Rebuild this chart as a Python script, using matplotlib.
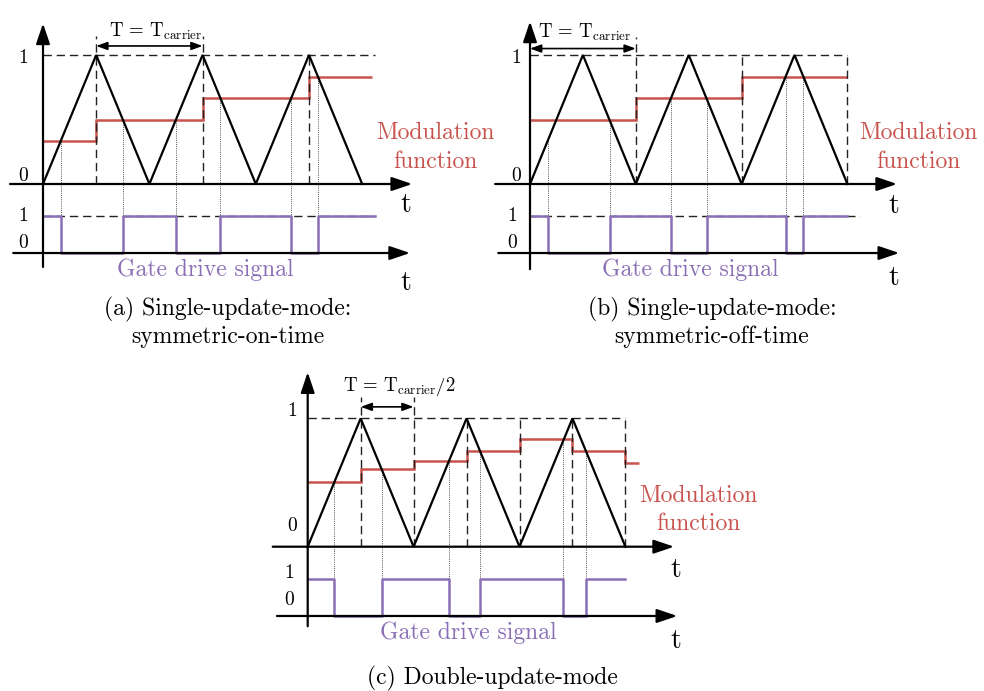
import numpy as np
import matplotlib
matplotlib.use("Agg")
import matplotlib.pyplot as plt

plt.rcParams['mathtext.fontset'] = 'cm'
plt.rcParams['font.family'] = ['cmr10', 'DejaVu Serif']
plt.rcParams['axes.unicode_minus'] = False

W, H = 984, 691
RED = '#c8524c'
PURPLE = '#8b6fb6'

# ---------------- data (time in carrier periods, amplitude normalised) ----------------
carrier_t = [0, 0.5, 1.0, 1.5, 2.0, 2.5, 3.0]
carrier_v = [0, 1, 0, 1, 0, 1, 0]

mod_a_edges = [0, 0.5, 1.5, 2.5, 3.09]
mod_a_levels = [0.336, 0.50, 0.664, 0.832]
gate_a_switch = [0.167, 0.75, 1.25, 1.667, 2.333, 2.583]
gate_a_end = 3.12

mod_b_edges = [0, 1.0, 2.0, 3.0]
mod_b_levels = [0.50, 0.664, 0.832]
gate_b_switch = [0.173, 0.755, 1.33, 1.672, 2.415, 2.585]
gate_b_end = 3.0

mod_c_edges = [0, 0.5, 1.0, 1.5, 2.0, 2.5, 3.0, 3.13]
mod_c_levels = [0.506, 0.605, 0.670, 0.748, 0.839, 0.748, 0.655]
gate_c_switch = [0.253, 0.70, 1.337, 1.63, 2.414, 2.628]
gate_c_end = 3.0

tick_labels = ['1', '0', '1', '0']

FS_LABEL = 17
FS_TICK = 14
FS_T = 20
FS_BR = 13.5

fig = plt.figure(figsize=(W / 100, H / 100), dpi=100)


def make_panel(box, origin, scale):
    l, t, r, b = box
    ox, oy = origin
    sx, sy = scale
    ax = fig.add_axes([l / W, 1 - b / H, (r - l) / W, (b - t) / H])
    ax.set_xlim((l - ox) / sx, (r - ox) / sx)
    ax.set_ylim((oy - b) / sy, (oy - t) / sy)
    ax.axis('off')
    return ax


def arrow(ax, x0, y0, x1, y1):
    ax.annotate('', xy=(x1, y1), xytext=(x0, y0),
                arrowprops=dict(arrowstyle='-|>,head_length=0.62,head_width=0.21',
                                mutation_scale=20, lw=1.6, color='k',
                                shrinkA=0, shrinkB=0), annotation_clip=False)


def bracket(ax, x0, x1, y):
    ax.annotate('', xy=(x1, y), xytext=(x0, y),
                arrowprops=dict(arrowstyle='<|-|>,head_length=0.55,head_width=0.2',
                                mutation_scale=12, lw=1.2, color='k',
                                shrinkA=0, shrinkB=0), annotation_clip=False)


def carrier_at(t):
    return np.interp(t, carrier_t, carrier_v)


def gate_wave(switch, end):
    xs = np.concatenate([[0], np.repeat(switch, 2), [end]])
    states = np.arange(len(switch) + 1) % 2 == 0
    ys = np.repeat(states, 2).astype(float)
    return xs, ys


def draw_panel(ax, edges, levels, switch, end, gh, gl, yax, xax, gax,
               vdash, vdash_tall, ydash_end, gdash_end, tall_top):
    dash = dict(color='#222222', lw=1.0, ls=(0, (6, 3.5)))
    # reference dashed lines
    ax.plot([0, ydash_end], [1, 1], **dash)
    for x in vdash:
        top = tall_top if x in vdash_tall else 1
        ax.plot([x, x], [0, top], **dash)
    if gdash_end is not None:
        ax.plot([0, gdash_end], [gh, gh], **dash)
    # dotted projection lines
    for s in switch:
        ax.plot([s, s], [carrier_at(s), gl], color='#555555', lw=0.7,
                ls=(0, (1, 1.2)))
    # carrier
    ax.plot(carrier_t, carrier_v, color='k', lw=1.6, solid_joinstyle='miter')
    # modulation function
    ax.stairs(levels, edges, baseline=None, color=RED, lw=1.8)
    # gate signal
    xs, ys = gate_wave(switch, end)
    ax.plot(xs, gl + ys * (gh - gl), color=PURPLE, lw=1.8)
    # axes
    arrow(ax, 0, yax[0], 0, yax[1])
    arrow(ax, xax[0], 0, xax[1], 0)
    arrow(ax, gax[0], gl, gax[1], gl)


# ---------------- panel (a) ----------------
sa = (106.4, 129.0)
axa = make_panel((0, 0, 490, 355), (43, 184), sa)
draw_panel(axa, mod_a_edges, mod_a_levels, gate_a_switch, gate_a_end,
           -0.248, -0.535, (-0.643, 1.245), (-0.31, 3.47), (-0.28, 3.45),
           [0.5, 1.5, 2.5], [0.5, 1.5], 3.12, 3.12, 1.15)
bracket(axa, 0.5, 1.5, 1.07)
axa.text(1.06, 1.185, r'$\mathrm{T\,=\,T}_{\mathrm{carrier}}$', ha='center', va='center', fontsize=FS_BR)

# ---------------- panel (b) ----------------
sb = (105.8, 129.0)
axb = make_panel((490, 0, 984, 355), (530, 184), sb)
draw_panel(axb, mod_b_edges, mod_b_levels, gate_b_switch, gate_b_end,
           -0.248, -0.535, (-0.66, 1.26), (-0.33, 3.47), (-0.30, 3.49),
           [1.0, 2.0, 3.0], [1.0], 3.0, 3.12, 1.14)
bracket(axb, 0.0, 1.0, 1.05)
axb.text(0.52, 1.175, r'$\mathrm{T\,=\,T}_{\mathrm{carrier}}$', ha='center', va='center', fontsize=FS_BR)

# ---------------- panel (c) ----------------
sc = (105.9, 128.3)
axc = make_panel((250, 360, 760, 691), (307.7, 546.7), sc)
draw_panel(axc, mod_c_edges, mod_c_levels, gate_c_switch, gate_c_end,
           -0.252, -0.540, (-0.62, 1.36), (-0.33, 3.46), (-0.29, 3.49),
           [0.5, 1.0, 1.5, 2.0, 2.5, 3.0], [0.5, 1.0], 3.0, None, 1.17)
bracket(axc, 0.5, 1.0, 1.09)
axc.text(0.87, 1.246, r'$\mathrm{T\,=\,T}_{\mathrm{carrier}}\mathrm{/2}$', ha='center', va='center', fontsize=FS_BR)

# ---------------- text labels ----------------
panels = [
    (axa, sa, (43, 184), (28, 28), 435, 205, (406, 205, 283),
     ['(a) Single-update-mode:', 'symmetric-on-time'], 228),
    (axb, sb, (530, 184), (521, 517), 918, 690, (894, 206, 278),
     ['(b) Single-update-mode:', 'symmetric-off-time'], 712),
]


def px2d(s, o, x, y):
    return (x - o[0]) / s[0], (o[1] - y) / s[1]


for ax, s, o, (tx, gtx), mfx, gdx, (tlx, tly1, tly2), cap, capx in panels:
    for lab, (xx, yy) in zip(tick_labels, [(tx, 58), (tx, 176), (gtx, 216), (gtx, 243)]):
        ax.text(*px2d(s, o, xx, yy), lab, ha='right', va='center', fontsize=FS_TICK)
    ax.text(*px2d(s, o, mfx, 133), 'Modulation', color=RED, ha='center', va='center', fontsize=FS_LABEL)
    ax.text(*px2d(s, o, mfx, 162), 'function', color=RED, ha='center', va='center', fontsize=FS_LABEL)
    ax.text(*px2d(s, o, gdx, 270), 'Gate drive signal', color=PURPLE, ha='center', va='center', fontsize=FS_LABEL)
    ax.text(*px2d(s, o, tlx, tly1), 't', ha='center', va='center', fontsize=FS_T)
    ax.text(*px2d(s, o, tlx, tly2), 't', ha='center', va='center', fontsize=FS_T)
    ax.text(*px2d(s, o, capx, 309), cap[0], ha='center', va='center', fontsize=FS_LABEL)
    ax.text(*px2d(s, o, capx, 337), cap[1], ha='center', va='center', fontsize=FS_LABEL)

oc = (307.7, 546.7)
for lab, (xx, yy) in zip(tick_labels, [(297, 411), (297, 526), (294, 573), (294, 600)]):
    axc.text(*px2d(sc, oc, xx, yy), lab, ha='right', va='center', fontsize=FS_TICK)
axc.text(*px2d(sc, oc, 698, 496), 'Modulation', color=RED, ha='center', va='center', fontsize=FS_LABEL)
axc.text(*px2d(sc, oc, 698, 524), 'function', color=RED, ha='center', va='center', fontsize=FS_LABEL)
axc.text(*px2d(sc, oc, 468, 633), 'Gate drive signal', color=PURPLE, ha='center', va='center', fontsize=FS_LABEL)
axc.text(*px2d(sc, oc, 676, 570), 't', ha='center', va='center', fontsize=FS_T)
axc.text(*px2d(sc, oc, 676, 641), 't', ha='center', va='center', fontsize=FS_T)
axc.text(*px2d(sc, oc, 492, 678), '(c) Double-update-mode', ha='center', va='center', fontsize=FS_LABEL)

fig.savefig('out.png', dpi=100)
